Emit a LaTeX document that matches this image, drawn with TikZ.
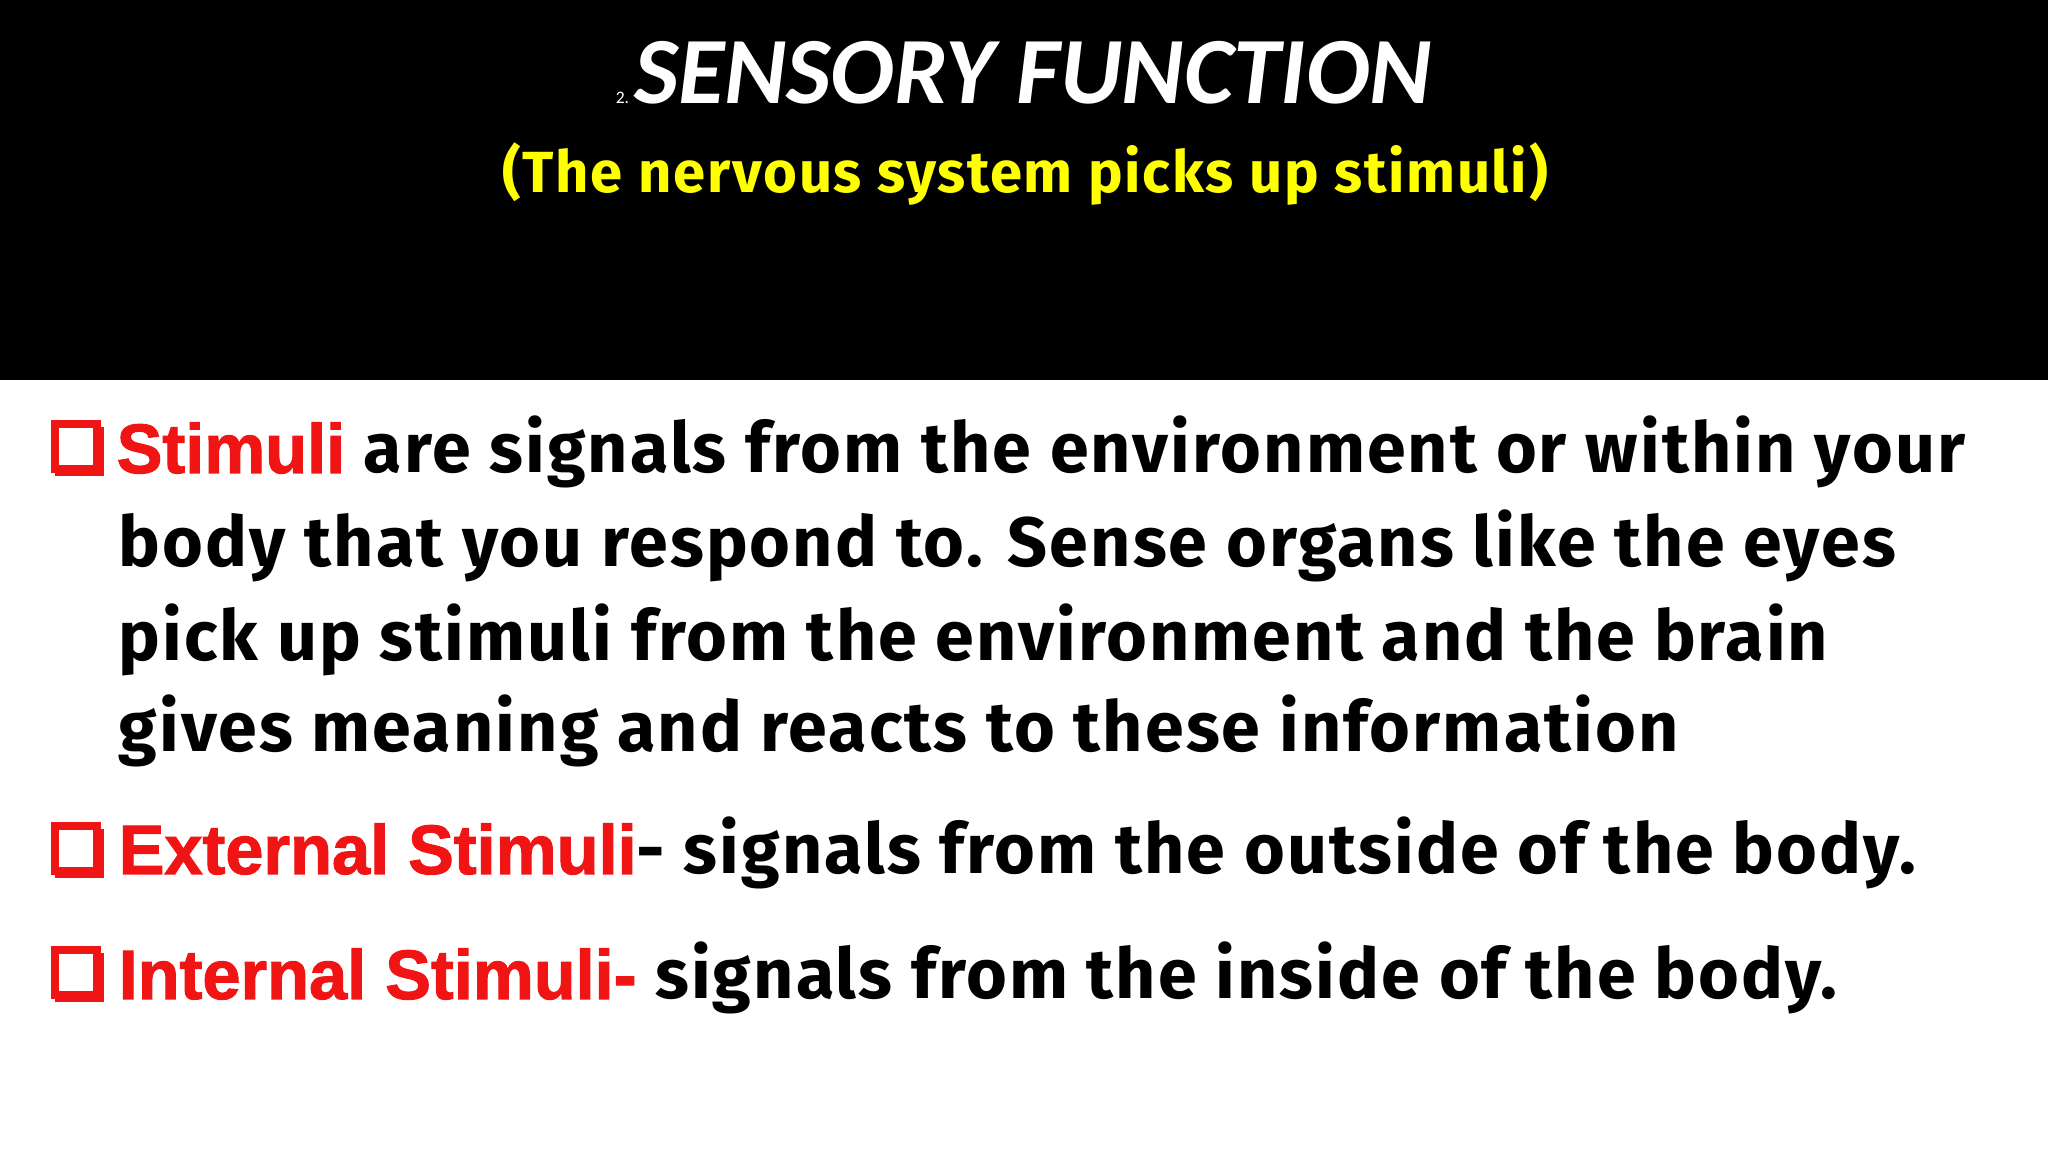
\documentclass[tikz,border=0pt]{standalone}
\usepackage{fontspec}
\setmainfont{Fira Sans}[LetterSpace=3]
\newfontfamily\narrowf[FakeStretch=0.98,FakeBold=1.5,LetterSpace=0]{Liberation Sans}
\newfontfamily\titlef{Carlito}
\definecolor{redt}{RGB}{240,20,20}
\definecolor{yel}{RGB}{255,255,0}
\begin{document}
\begin{tikzpicture}[x=1cm,y=1cm,
  body/.style={anchor=base west,inner sep=0pt,font=\fontsize{19.9}{24}\selectfont\bfseries},
  bul/.style={draw=redt,line width=2.4pt}]
\useasboundingbox (0,0) rectangle (20.48,11.52);
\fill[white] (0,0) rectangle (20.48,11.52);
\fill[black] (0,7.72) rectangle (20.48,11.52);
\node[anchor=base,text=white,inner sep=0pt,font=\titlef\bfseries\itshape\fontsize{27}{30}\selectfont] (t) at (10.33,10.48) {SENSORY FUNCTION};
\node[anchor=base east,text=white,inner sep=1pt,font=\titlef\fontsize{5}{6}\selectfont] (tn) at (t.base west) {2.};
\node[anchor=base,text=yel,inner sep=0pt,font=\fontsize{16.5}{20}\selectfont\bfseries] (s) at (10.25,9.59) {(The nervous system picks up stimuli)};
\foreach \n/\y in {b1/7.06,b2/3.04,b3/1.80}{
  \fill[redt] (0.55,\y-0.30) rectangle (1.04,\y+0.19);
  \fill[white] (0.57,\y-0.21) rectangle (0.97,\y+0.20);
  \draw[bul] (0.55,\y-0.23) rectangle (0.97,\y+0.22);
  \coordinate (\n) at (0.5,\y);
}
\node[body] (l1) at (1.16,6.79) {{\narrowf\color{redt}Stimuli} are signals from the environment or within your};
\node[body] (l2) at (1.18,5.85) {body that you respond to. Sense organs like the eyes};
\node[body] (l3) at (1.18,4.91) {pick up stimuli from the environment and the brain};
\node[body] (l4) at (1.18,4.00) {gives meaning and reacts to these information};
\node[body] (l5) at (1.18,2.78) {{\narrowf\color{redt}External Stimuli}- signals from the outside of the body.};
\node[body] (l6) at (1.18,1.53) {{\narrowf\color{redt}Internal Stimuli-} signals from the inside of the body.};
\end{tikzpicture}
\end{document}
